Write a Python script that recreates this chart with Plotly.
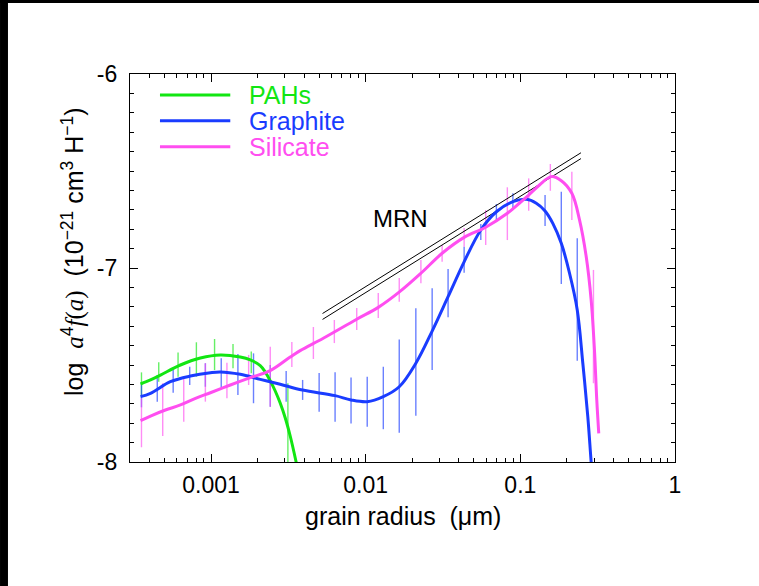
import plotly.graph_objects as go

# ---------------- data ----------------
pah_a = [3.50e-4, 4.06e-4, 4.71e-4, 6.34e-4, 8.53e-4, 1.148e-3, 1.545e-3, 1.795e-3,
         2.08e-3, 2.24e-3, 2.415e-3, 2.60e-3, 2.80e-3, 3.02e-3, 3.25e-3, 3.55e-3, 3.77e-3]
pah_y = [-7.598, -7.577, -7.552, -7.500, -7.464, -7.448, -7.459, -7.474,
         -7.503, -7.536, -7.582, -7.634, -7.696, -7.773, -7.866, -8.0, -8.1]

gra_a = [3.50e-4, 4.06e-4, 5.46e-4, 7.35e-4, 9.9e-4, 1.148e-3, 1.545e-3, 2.08e-3,
         2.80e-3, 3.90e-3, 6.34e-3, 8.04e-3, 1.023e-2, 1.30e-2, 1.648e-2, 2.11e-2,
         2.69e-2, 3.41e-2, 4.33e-2, 5.55e-2, 7.00e-2, 8.95e-2, 0.1094, 0.1268,
         0.1445, 0.1622, 0.184, 0.208, 0.2333, 0.2535, 0.273, 0.287, 0.297]
gra_y = [-7.663, -7.646, -7.586, -7.557, -7.540, -7.536, -7.548, -7.574,
         -7.599, -7.629, -7.658, -7.680, -7.689, -7.663, -7.612, -7.491,
         -7.325, -7.148, -6.968, -6.804, -6.710, -6.658, -6.646, -6.666,
         -6.706, -6.770, -6.873, -7.027, -7.216, -7.491, -7.766, -8.0, -8.144]

sil_a = [3.50e-4, 4.06e-4, 5.07e-4, 6.34e-4, 7.93e-4, 9.9e-4, 1.333e-3, 1.795e-3,
         2.415e-3, 3.25e-3, 3.77e-3, 5.32e-3, 8.75e-3, 1.206e-2, 1.66e-2, 2.275e-2,
         3.12e-2, 4.33e-2, 5.97e-2, 8.24e-2, 9.89e-2, 0.1132, 0.133, 0.1585,
         0.184, 0.2153, 0.2415, 0.2667, 0.287, 0.3015, 0.312, 0.3214]
sil_y = [-7.787, -7.763, -7.732, -7.706, -7.672, -7.643, -7.603, -7.565,
         -7.529, -7.459, -7.426, -7.362, -7.264, -7.203, -7.122, -7.027,
         -6.924, -6.842, -6.790, -6.718, -6.665, -6.624, -6.572, -6.529,
         -6.550, -6.615, -6.753, -6.942, -7.165, -7.423, -7.680, -7.852]

pah_err_a = [3.55e-4, 4.59e-4, 6.12e-4, 8.04e-4, 1.054e-3, 1.387e-3, 1.82e-3, 3.14e-3]
pah_err_hi = [-7.538, -7.486, -7.435, -7.383, -7.366, -7.392, -7.431, -7.594]
pah_err_lo = [-7.659, -7.586, -7.560, -7.560, -7.526, -7.517, -7.543, -8.05]

gra_err_a = [3.55e-4, 4.49e-4, 5.69e-4, 7.28e-4, 9.19e-4, 1.164e-3, 1.492e-3, 1.882e-3,
             2.415e-3, 3.06e-3, 3.91e-3, 5.00e-3, 6.34e-3, 8.04e-3, 1.023e-2, 1.30e-2,
             1.648e-2, 2.11e-2, 2.69e-2, 3.41e-2, 4.33e-2, 5.55e-2, 7.00e-2, 8.95e-2,
             0.1445, 0.184, 0.2333]
gra_err_hi = [-7.593, -7.552, -7.526, -7.509, -7.491, -7.465, -7.443, -7.440,
              -7.500, -7.531, -7.577, -7.541, -7.538, -7.565, -7.560, -7.509,
              -7.368, -7.208, -7.105, -7.005, -6.890, -6.773, -6.670, -6.615,
              -6.624, -6.607, -6.847]
gra_err_lo = [-7.718, -7.689, -7.643, -7.603, -7.612, -7.615, -7.655, -7.697,
              -7.715, -7.689, -7.680, -7.741, -7.792, -7.801, -7.818, -7.831,
              -7.849, -7.761, -7.526, -7.254, -7.024, -6.856, -6.758, -6.701,
              -6.784, -7.082, -7.478]

sil_err_a = [3.55e-4, 4.87e-4, 6.66e-4, 9.19e-4, 1.267e-3, 1.75e-3, 2.415e-3, 3.33e-3,
             4.59e-3, 6.27e-3, 8.75e-3, 1.206e-2, 1.648e-2, 2.275e-2, 3.12e-2, 4.33e-2,
             5.97e-2, 8.24e-2, 0.1132, 0.1563, 0.2153, 0.297]
sil_err_hi = [-7.672, -7.594, -7.560, -7.491, -7.488, -7.448, -7.406, -7.381,
              -7.304, -7.268, -7.206, -7.129, -7.052, -6.959, -6.881, -6.794,
              -6.701, -6.584, -6.538, -6.464, -6.504, -7.010]
sil_err_lo = [-7.924, -7.866, -7.792, -7.689, -7.672, -7.603, -7.715, -7.510,
              -7.469, -7.387, -7.320, -7.258, -7.174, -7.079, -6.968, -6.890,
              -6.881, -6.856, -6.705, -6.602, -6.753, -7.594]

mrn_a = [0.00526, 0.2466]
mrn_upper = [-7.2345, -6.406]
mrn_lower = [-7.265, -6.436]

series_names = ["PAHs", "Graphite", "Silicate"]
x_tickvals = [0.001, 0.01, 0.1, 1]
x_ticktext = ["0.001", "0.01", "0.1", "1"]
y_tickvals = [-8, -7, -6]
y_ticktext = ["-8", "-7", "-6"]

# ---------------- style ----------------
GREEN = "#12e612"
BLUE = "#1a3cff"
PINK = "#ff4ef0"
FONT = "Liberation Sans, Arial, sans-serif"


def bars(xs, lo, hi):
    bx, by = [], []
    for x, l, h in zip(xs, lo, hi):
        bx += [x, x, None]
        by += [l, h, None]
    return bx, by


fig = go.Figure()

for xs, lo, hi, col in [(pah_err_a, pah_err_lo, pah_err_hi, "rgba(18,230,18,0.65)"),
                        (gra_err_a, gra_err_lo, gra_err_hi, "rgba(26,60,255,0.65)"),
                        (sil_err_a, sil_err_lo, sil_err_hi, "rgba(255,78,240,0.65)")]:
    bx, by = bars(xs, lo, hi)
    fig.add_trace(go.Scatter(x=bx, y=by, mode="lines", line=dict(color=col, width=1.4),
                             showlegend=False, hoverinfo="skip"))

for ys in (mrn_upper, mrn_lower):
    fig.add_trace(go.Scatter(x=mrn_a, y=ys, mode="lines", line=dict(color="black", width=1),
                             showlegend=False, hoverinfo="skip"))

for xs, ys, col, nm in [(pah_a, pah_y, GREEN, series_names[0]),
                        (gra_a, gra_y, BLUE, series_names[1]),
                        (sil_a, sil_y, PINK, series_names[2])]:
    fig.add_trace(go.Scatter(x=xs, y=ys, mode="lines", name=nm,
                             line=dict(color=col, width=3, shape="spline", smoothing=1.0),
                             showlegend=False))

# x minor ticks
x_minor = [k * 10.0 ** n for n in range(-4, 0) for k in range(2, 10)]
x_minor = [v for v in x_minor if 3.0e-4 <= v <= 1.0]

axis_common = dict(showline=True, linecolor="black", linewidth=1.3, mirror="ticks",
                   ticks="inside", ticklen=8, tickwidth=1.2, tickcolor="black",
                   showgrid=False, zeroline=False,
                   tickfont=dict(family=FONT, size=23, color="black"))

fig.update_xaxes(type="log", range=[-3.524, 0.0], tickmode="array",
                 tickvals=x_tickvals, ticktext=x_ticktext,
                 minor=dict(tickmode="array", tickvals=x_minor, ticks="inside", ticklen=4,
                            tickwidth=1.2, tickcolor="black"),
                 ticklabelstandoff=2, **axis_common)
fig.update_yaxes(range=[-8, -6], tickmode="array", tickvals=y_tickvals, ticktext=y_ticktext,
                 minor=dict(dtick=0.1, tick0=-8, ticks="inside", ticklen=4, tickwidth=1.2,
                            tickcolor="black"),
                 ticklabelstandoff=7, **axis_common)

# legend drawn manually
leg_y = [0.9459, 0.8796, 0.8126]
for nm, col, ly in zip(series_names, [GREEN, BLUE, PINK], leg_y):
    fig.add_shape(type="line", xref="paper", yref="paper", x0=0.055, x1=0.184, y0=ly, y1=ly,
                  line=dict(color=col, width=3))
    fig.add_annotation(xref="paper", yref="paper", x=0.214, y=ly, text=nm, showarrow=False,
                       xanchor="left", yanchor="middle",
                       font=dict(family=FONT, size=25, color=col))

fig.add_annotation(x=-1.775, y=-6.747, xref="x", yref="y", text="MRN", showarrow=False,
                   font=dict(family=FONT, size=24, color="black"))

# axis titles
fig.add_annotation(xref="paper", yref="paper", x=0.5, y=-0.138, text="grain radius  (μm)",
                   showarrow=False, xanchor="center", yanchor="middle",
                   font=dict(family=FONT, size=25, color="black"))
ser = "font-family:'Liberation Serif', 'Times New Roman', serif"
ylab = (f"log  <span style=\"{ser}\"><i>a</i></span><sup>4</sup>"
        f"<span style=\"{ser}\"><i>f</i>(<i>a</i>)</span>  "
        "(10<sup>−21</sup> cm<sup>3</sup> H<sup>−1</sup>)")
fig.add_annotation(xref="paper", yref="paper", x=-0.1046, y=0.5438, text=ylab,
                   showarrow=False, textangle=-90, xanchor="center", yanchor="middle",
                   font=dict(family=FONT, size=25, color="black"))

# black strips at left and top edges of the picture
fig.add_shape(type="rect", xref="paper", yref="paper", x0=-0.2385, x1=-0.2239,
              y0=-0.3196, y1=1.1907, fillcolor="black", line=dict(width=0))
fig.add_shape(type="rect", xref="paper", yref="paper", x0=-0.2385, x1=1.1541,
              y0=1.1830, y1=1.1907, fillcolor="black", line=dict(width=0))

fig.update_layout(width=759, height=586, margin=dict(l=130, r=84, t=74, b=124),
                  paper_bgcolor="white", plot_bgcolor="white", showlegend=False,
                  font=dict(family=FONT, color="black"))

fig.write_html("out.html")
